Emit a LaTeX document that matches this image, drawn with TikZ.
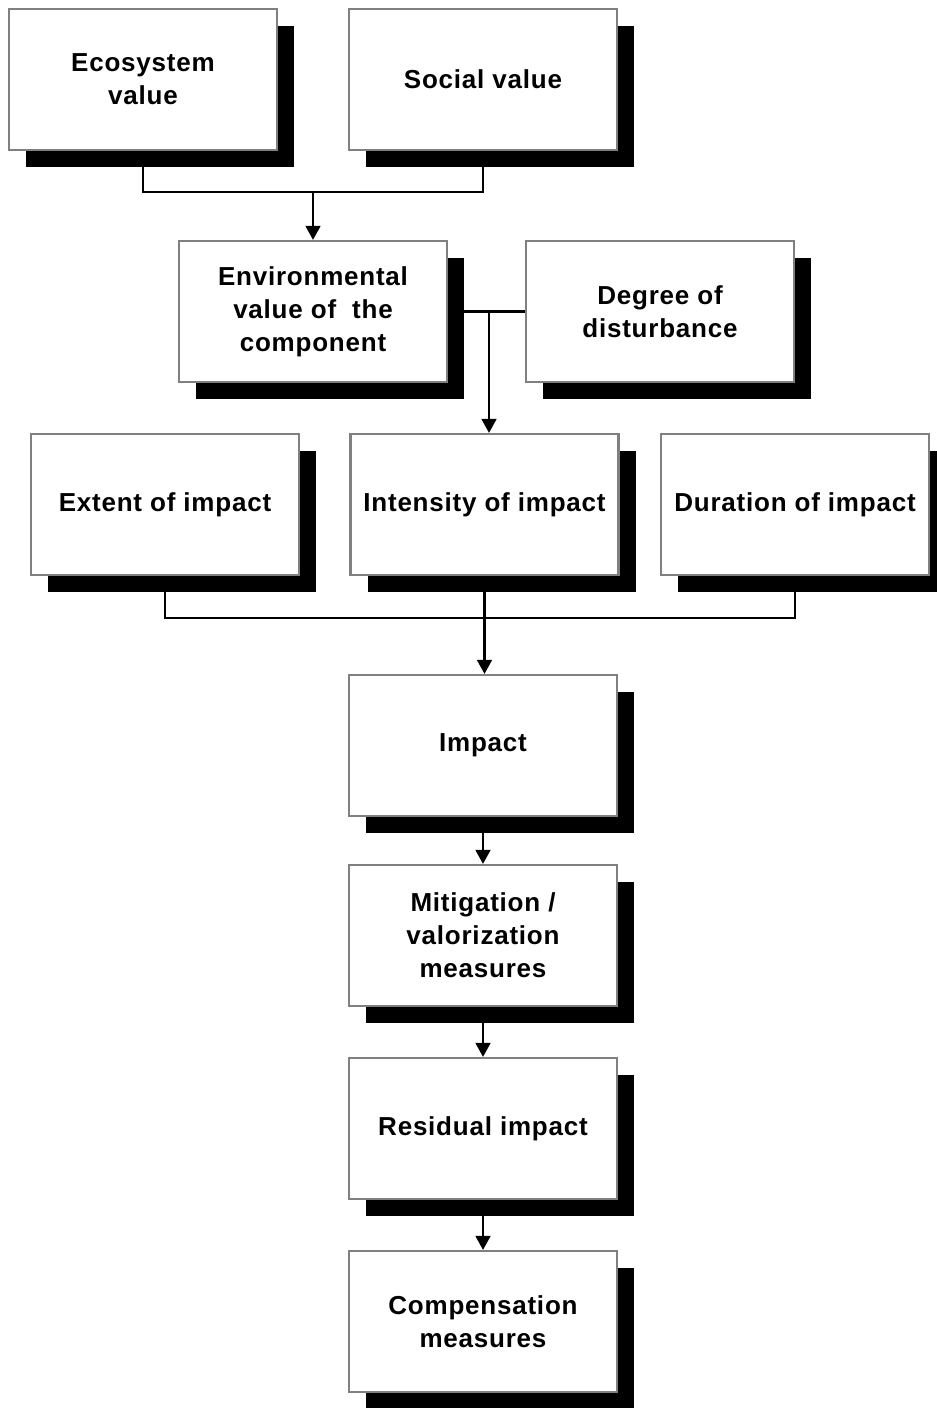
\documentclass[tikz,border=0pt]{standalone}
\usepackage{fontspec}
\setmainfont[LetterSpace=3]{Liberation Sans}
\usetikzlibrary{arrows.meta,shadows}

\tikzset{
  valbox/.style={draw=black!50, line width=1.6pt, fill=white,
    minimum width=201pt, minimum height=105.75pt, inner sep=0pt,
    align=center, font=\fontsize{19.5}{24.75}\selectfont\bfseries,
    drop shadow={shadow xshift=12.75pt, shadow yshift=-12.75pt, fill=black, opacity=1}},
  link/.style={line width=1.8pt},
  flow/.style={line width=1.8pt, -{Triangle[length=10.5pt,width=11pt]}},
}

\begin{document}
\begin{tikzpicture}[x=0.75pt,y=0.75pt,yscale=-1,xscale=1]
\useasboundingbox (0,0) rectangle (937,1408);

% top row
    \node [valbox] (eco) at (143,79.5) {Ecosystem\\value};
    \node [valbox] (social) at (483,79.5) {Social value};
% second row
    \node [valbox] (env) at (313,311.5) {Environmental\\value of \ the\\component};
    \node [valbox] (degree) at (660,311.5) {Degree of\\disturbance};
% criteria
    \node [valbox] (extent) at (165,504.5) {Extent of impact};
    \node [valbox] (intensity) at (484.5,504.5) {Intensity of impact};
    \node [valbox] (duration) at (795,504.5) {Duration of impact};
% chain
    \node [valbox] (impact) at (483,745.5) {Impact};
    \node [valbox] (mitig) at (483,935.5) {Mitigation /\\valorization\\measures};
    \node [valbox] (residual) at (483,1128.5) {Residual impact};
    \node [valbox] (comp) at (483,1321.5) {Compensation\\measures};

% junctions
    \coordinate (j1) at (313,192);
    \coordinate (j2) at (489,311.5);
    \coordinate (j3) at (484.5,618);

% connectors
    \draw [link] (eco.south) |- (j1) -| (social.south);
    \draw [flow] (j1) -- (env.north);
    \draw [link] (env.east) -- (degree.west);
    \draw [flow] (j2) -- (j2 |- intensity.north);
    \draw [link] (extent.south) |- (j3) -| (duration.south);
    \draw [flow] (intensity.south) -- (intensity.south |- impact.north);
    \draw [flow] (impact.south) -- (mitig.north);
    \draw [flow] (mitig.south) -- (residual.north);
    \draw [flow] (residual.south) -- (comp.north);
\end{tikzpicture}
\end{document}
